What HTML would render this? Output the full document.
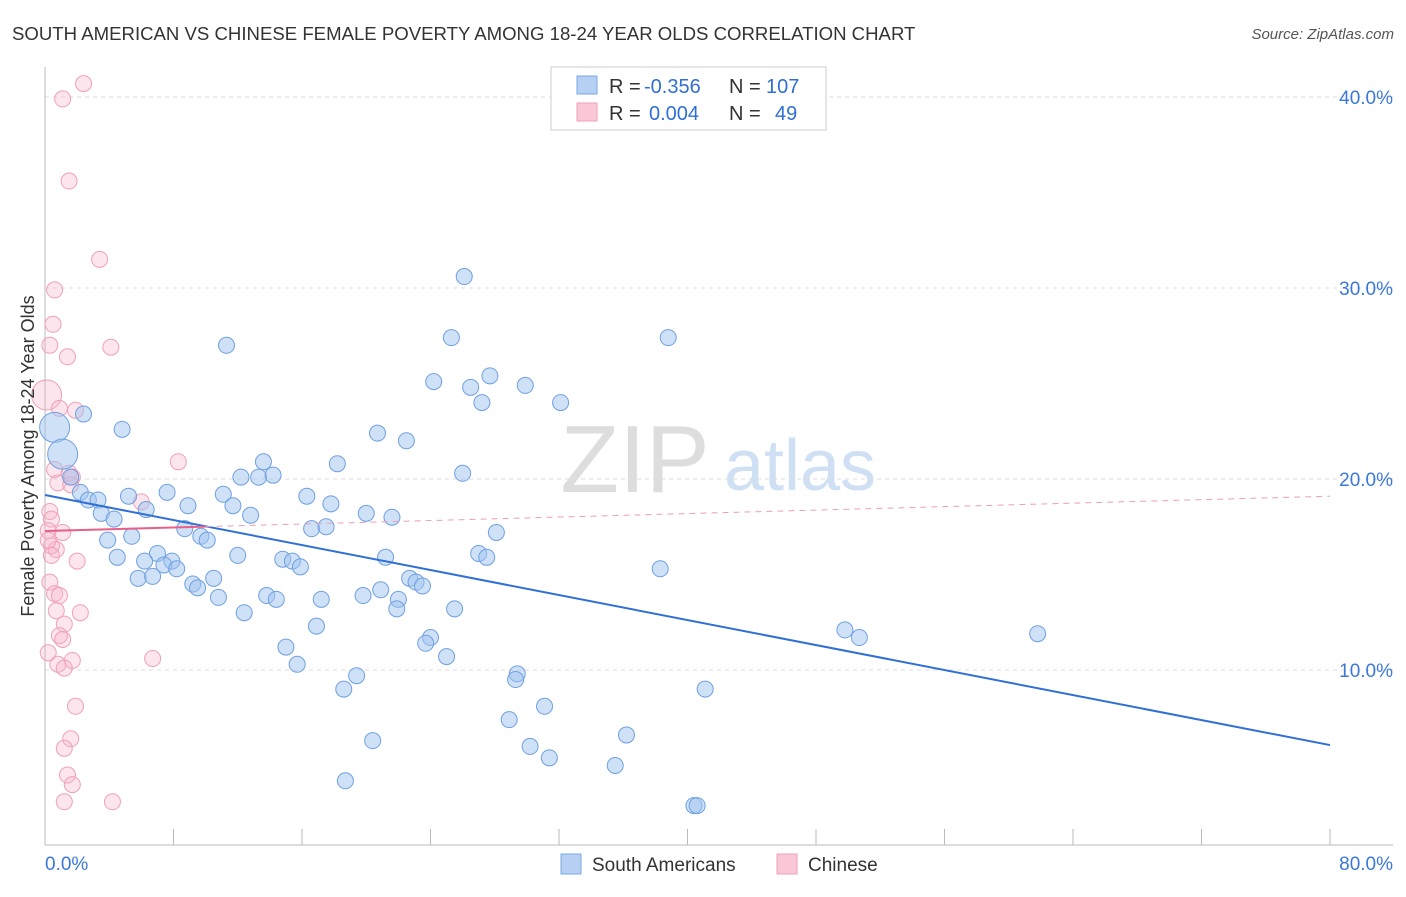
<!DOCTYPE html>
<html><head><meta charset="utf-8"><style>
body{margin:0;background:#fff;font-family:"Liberation Sans",sans-serif;}
svg text{font-family:"Liberation Sans",sans-serif;}
</style></head><body>
<svg id="c" width="1406" height="892">
<text x="12" y="40" font-size="18.6" fill="#333">SOUTH AMERICAN VS CHINESE FEMALE POVERTY AMONG 18-24 YEAR OLDS CORRELATION CHART</text>
<text x="1394" y="39" font-size="15" fill="#555" text-anchor="end" font-style="italic">Source: ZipAtlas.com</text>
<text x="635" y="492" font-size="96" fill="#ddd" font-family="Liberation Serif" text-anchor="middle">ZIP</text>
<text x="800" y="490" font-size="72" fill="#cfe0f4" text-anchor="middle">atlas</text>
<g id="grid"></g><g id="axes"></g><g id="pts"></g><g id="trend"></g>
<text x="34" y="456" font-size="18" fill="#333" text-anchor="middle" transform="rotate(-90 34 456)">Female Poverty Among 18-24 Year Olds</text>
<g>
<rect x="551" y="67" width="275" height="63" fill="#fff" stroke="#ccc"/>
<rect x="577" y="76" width="20" height="18" fill="#b6d0f3" stroke="#7aa8e6"/>
<rect x="577" y="103" width="20" height="18" fill="#f9c7d6" stroke="#f0a0b8"/>
<text x="609" y="93" font-size="20" fill="#333">R =</text>
<text x="644" y="93" font-size="20" fill="#2f6fd6">-0.356</text>
<text x="729" y="93" font-size="20" fill="#333">N =</text>
<text x="766" y="93" font-size="20" fill="#2f6fd6">107</text>
<text x="609" y="120" font-size="20" fill="#333">R =</text>
<text x="649" y="120" font-size="20" fill="#2f6fd6">0.004</text>
<text x="729" y="120" font-size="20" fill="#333">N =</text>
<text x="775" y="120" font-size="20" fill="#2f6fd6">49</text>
</g>
<g>
<rect x="561" y="854" width="20" height="20" fill="#b6d0f3" stroke="#7aa8e6"/>
<text x="592" y="871" font-size="19" fill="#333">South Americans</text>
<rect x="777" y="854" width="20" height="20" fill="#f9c7d6" stroke="#f0a0b8"/>
<text x="808" y="871" font-size="19" fill="#333">Chinese</text>
</g>
</svg>
<script>
const blueX=[26.1,25.3,38.8,11.3,24.2,27.7,26.5,29.9,27.2,32.1,2.4,4.8,20.7,22.5,0.6,1.1,13.6,18.2,26.0,12.2,13.3,14.2,1.6,2.2,2.7,3.3,5.2,7.6,8.9,11.1,11.7,16.3,17.8,20.0,21.6,6.3,3.5,4.3,8.7,12.8,16.6,17.5,28.1,9.7,10.1,3.9,5.4,7.0,12.0,21.2,27.0,27.5,14.8,15.4,15.9,4.5,6.2,7.9,7.4,8.2,5.8,6.7,10.5,9.2,9.5,38.3,22.7,23.1,23.5,20.9,13.8,14.4,17.2,19.8,22.0,10.8,12.4,21.9,25.5,16.9,15.0,24.0,23.7,25.0,15.7,19.4,29.4,29.3,18.6,41.1,49.8,50.7,61.8,31.1,28.9,36.2,20.4,30.2,31.4,35.5,18.7,40.4,40.6];
const blueY=[30.6,27.4,27.4,27.0,25.1,25.4,24.8,24.9,24.0,24.0,23.4,22.6,22.4,22.0,22.7,21.3,20.9,20.8,20.3,20.1,20.1,20.2,20.1,19.3,18.9,18.9,19.1,19.3,18.6,19.2,18.6,19.1,18.7,18.2,18.0,18.4,18.2,17.9,17.4,18.1,17.4,17.5,17.2,17.0,16.8,16.8,17.0,16.1,16.0,15.9,16.1,15.9,15.8,15.7,15.4,15.9,15.7,15.7,15.5,15.3,14.8,14.9,14.8,14.5,14.3,15.3,14.8,14.6,14.4,14.2,13.9,13.7,13.7,13.9,13.7,13.8,13.0,13.2,13.2,12.3,11.2,11.7,11.4,10.7,10.3,9.7,9.8,9.5,9.0,9.0,12.1,11.7,11.9,8.1,7.4,6.6,6.3,6.0,5.4,5.0,4.2,2.9,2.9];
const blueBig=[14,15];
const pinkX=[2.4,1.1,1.5,3.4,0.6,0.5,4.1,0.3,1.4,0.1,0.9,1.9,8.3,1.5,1.7,0.8,6.0,0.3,0.4,0.2,1.1,0.4,0.7,2.0,0.3,0.6,0.9,2.2,0.7,1.2,0.9,1.1,0.2,6.7,1.7,0.8,1.2,1.9,1.6,1.2,1.4,1.7,1.2,4.2,0.2,0.4,0.6,1.6];
const pinkY=[40.7,39.9,35.6,31.5,29.9,28.1,26.9,27.0,26.4,24.4,23.7,23.6,20.9,20.3,20.1,19.8,18.8,18.3,17.9,17.3,17.2,16.5,16.3,15.7,14.6,14.0,13.9,13.0,13.1,12.4,11.8,11.6,10.9,10.6,10.5,10.3,10.1,8.1,6.4,5.9,4.5,4.0,3.1,3.1,16.8,16.0,20.5,19.7];
const pinkBig=[9];
const blueTrend=[19.16,6.07];
const pinkTrend=[17.28,19.1];
const yTicks=[10,20,30,40];
const xs=v=>45+v*16.0625, ys=v=>861-v*19.1;
const NS="http://www.w3.org/2000/svg";
function mk(t,a,p){const e=document.createElementNS(NS,t);for(const k in a)e.setAttribute(k,a[k]);p.appendChild(e);return e;}
const grid=document.getElementById('grid'),axes=document.getElementById('axes'),pts=document.getElementById('pts'),tr=document.getElementById('trend');
yTicks.forEach(v=>{const l=mk('line',{x1:45,x2:1393,y1:ys(v),y2:ys(v),stroke:'#ddd','stroke-dasharray':'4,4'},grid);


const t=mk('text',{x:1393,y:ys(v)+7,'font-size':19,fill:'#3b78d8','text-anchor':'end'},grid);t.textContent=v.toFixed(1)+'%';

});
let a=mk('line',{x1:45,x2:1393,y1:845,y2:845,stroke:'#bbb'},axes);


a=mk('line',{x1:45,x2:45,y1:67,y2:845,stroke:'#bbb'},axes);


for(let i=1;i<=10;i++){const t=mk('line',{x1:xs(i*8),x2:xs(i*8),y1:829,y2:845,stroke:'#bbb'},axes);

}
[['0.0%',45,'start'],['80.0%',1393,'end']].forEach(d=>{const t=mk('text',{x:d[1],y:870,'font-size':19,fill:'#3b78d8','text-anchor':d[2]},axes);t.textContent=d[0];

});
function dots(X,Y,big,fill,stroke,name){X.forEach((x,i)=>{const c=mk('circle',{cx:xs(x),cy:ys(Y[i]),r:big.includes(i)?15:8,fill:fill,stroke:stroke,'stroke-width':1},pts);

});}
dots(pinkX,pinkY,pinkBig,'rgba(246,180,202,0.35)','#f0a0b8','chinese-point');
dots(blueX,blueY,blueBig,'rgba(160,196,240,0.5)','#6fa0e0','south-american-point');
let l=mk('line',{x1:xs(0),y1:ys(blueTrend[0]),x2:xs(80),y2:ys(blueTrend[1]),stroke:'#2f6fd6','stroke-width':2},tr);


const py=v=>pinkTrend[0]+(pinkTrend[1]-pinkTrend[0])*v/80;
l=mk('line',{x1:xs(0),y1:ys(py(0)),x2:xs(10),y2:ys(py(10)),stroke:'#e8608a','stroke-width':2},tr);


l=mk('line',{x1:xs(10),y1:ys(py(10)),x2:xs(80),y2:ys(py(80)),stroke:'#eaa0b8','stroke-width':1,'stroke-dasharray':'6,5'},tr);


</script>
</body></html>
